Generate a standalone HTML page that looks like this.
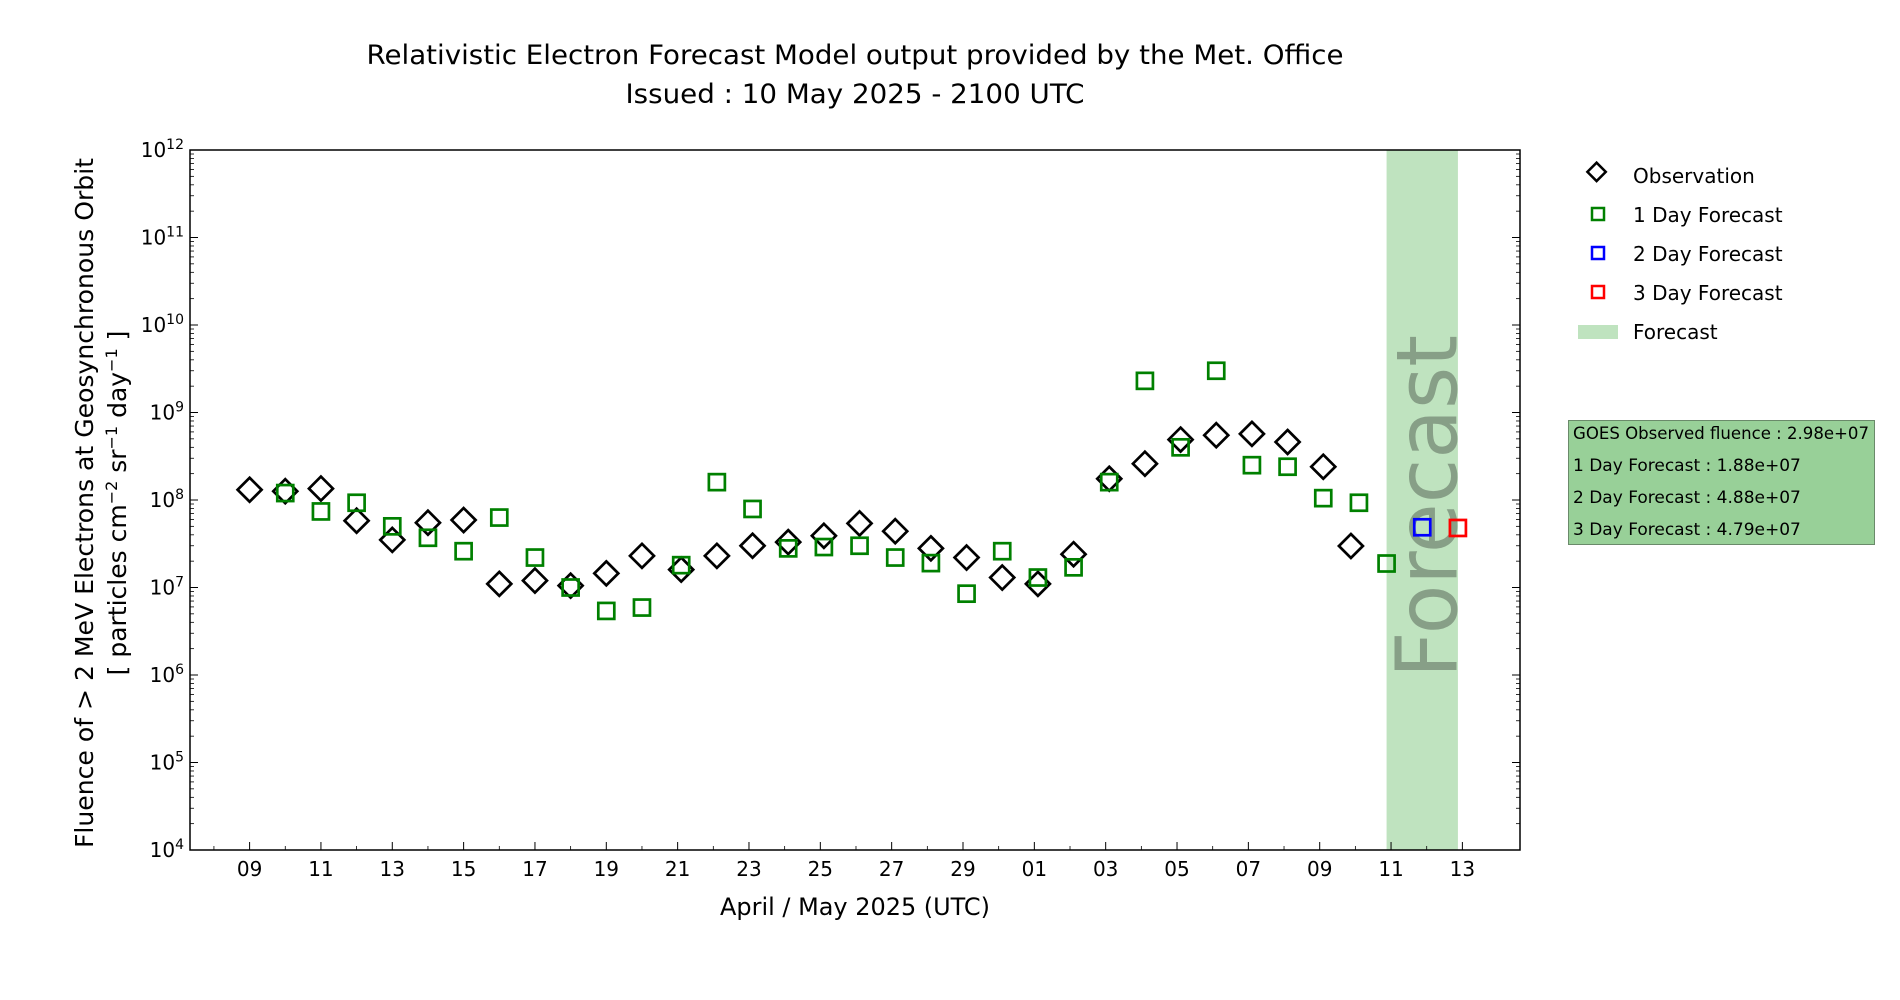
<!DOCTYPE html>
<html><head><meta charset="utf-8"><style>
html,body{margin:0;padding:0;background:#fff;}
svg{display:block;font-family:"DejaVu Sans","Liberation Sans",sans-serif;}
</style></head><body>
<svg id="chart" width="1900" height="1000" viewBox="0 0 1900 1000">
<text x="855" y="64" font-size="27" text-anchor="middle" textLength="977" lengthAdjust="spacingAndGlyphs">Relativistic Electron Forecast Model output provided by the Met. Office</text>
<text x="855" y="103" font-size="27" text-anchor="middle" textLength="459" lengthAdjust="spacingAndGlyphs">Issued : 10 May 2025 - 2100 UTC</text>
<g id="plot"></g>
<text x="855" y="915" font-size="24" text-anchor="middle" textLength="270" lengthAdjust="spacingAndGlyphs">April / May 2025 (UTC)</text>
<g transform="translate(93,503) rotate(-90)">
<text x="0" y="0" font-size="25" text-anchor="middle" textLength="690" lengthAdjust="spacingAndGlyphs">Fluence of &gt; 2 MeV Electrons at Geosynchronous Orbit</text>
<text x="0" y="33" font-size="25" text-anchor="middle">[ particles cm<tspan baseline-shift="super" font-size="16">−2</tspan> sr<tspan baseline-shift="super" font-size="16">−1</tspan> day<tspan baseline-shift="super" font-size="16">−1</tspan> ]</text>
</g>
<g>
<rect x="1589" y="167" width="13" height="13" transform="rotate(45 1598 174)" fill="none" stroke="#000" stroke-width="2.5"/>
<text x="1633" y="183" font-size="20">Observation</text>
<rect x="1592" y="208" width="12" height="12" fill="none" stroke="#008000" stroke-width="2.5"/>
<text x="1633" y="222" font-size="20">1 Day Forecast</text>
<rect x="1592" y="247" width="12" height="12" fill="none" stroke="#0000ff" stroke-width="2.5"/>
<text x="1633" y="261" font-size="20">2 Day Forecast</text>
<rect x="1592" y="286" width="12" height="12" fill="none" stroke="#ff0000" stroke-width="2.5"/>
<text x="1633" y="300" font-size="20">3 Day Forecast</text>
<rect x="1578" y="325" width="40" height="14" fill="#bfe3bf"/>
<text x="1633" y="339" font-size="20">Forecast</text>
</g>
<g>
<rect x="1568.5" y="420.5" width="306" height="124" fill="#98d098" stroke="#6a8a6a" stroke-width="1"/>
<text x="1573" y="439" font-size="17" textLength="296" lengthAdjust="spacingAndGlyphs">GOES Observed fluence : 2.98e+07</text>
<text x="1573" y="471" font-size="17">1 Day Forecast : 1.88e+07</text>
<text x="1573" y="503" font-size="17">2 Day Forecast : 4.88e+07</text>
<text x="1573" y="535" font-size="17">3 Day Forecast : 4.79e+07</text>
</g>
</svg>
<script>
// day index 0 = 09 April 2025
const obsDays = [0,1,2,3,4,5,6,7,8,9,10,11,12.1,13.1,14.1,15.1,16.1,17.1,18.1,19.1,20.1,21.1,22.1,23.1,24.1,25.1,26.1,27.1,28.1,29.1,30.1,30.875];
const obsValues = [1.31e8,1.26e8,1.35e8,5.8e7,3.5e7,5.5e7,5.9e7,1.1e7,1.2e7,1.05e7,1.45e7,2.3e7,1.6e7,2.3e7,3.0e7,3.3e7,3.9e7,5.4e7,4.4e7,2.8e7,2.2e7,1.3e7,1.1e7,2.4e7,1.75e8,2.6e8,4.9e8,5.5e8,5.7e8,4.6e8,2.4e8,2.98e7];
const fc1Days = [1,2,3,4,5,6,7,8,9,10,11,12.1,13.1,14.1,15.1,16.1,17.1,18.1,19.1,20.1,21.1,22.1,23.1,24.1,25.1,26.1,27.1,28.1,29.1,30.1,31.1,31.875];
const fc1Values = [1.2e8,7.4e7,9.3e7,5.0e7,3.7e7,2.6e7,6.3e7,2.2e7,1.0e7,5.4e6,5.9e6,1.8e7,1.6e8,7.9e7,2.8e7,2.9e7,3.0e7,2.2e7,1.9e7,8.5e6,2.6e7,1.3e7,1.7e7,1.6e8,2.3e9,4.0e8,3.0e9,2.5e8,2.4e8,1.05e8,9.3e7,1.88e7];
const fc2Days = [32.875];
const fc2Values = [4.88e7];
const fc3Days = [33.875];
const fc3Values = [4.79e7];
const bandStart = 31.875, bandEnd = 33.875;
const xTickDays = [0,2,4,6,8,10,12,14,16,18,20,22,24,26,28,30,32,34];
const xTickLabels = ["09","11","13","15","17","19","21","23","25","27","29","01","03","05","07","09","11","13"];
const yExps = [4,5,6,7,8,9,10,11,12];

const L=190,R=1520,T=150,B=850;
const xs = d => 249.6 + 35.67*d;
const ys = v => B - (Math.log10(v)-4)*(B-T)/8;
const NS="http://www.w3.org/2000/svg";
const g=document.getElementById('plot');
function mk(tag,attrs,parent){const e=document.createElementNS(NS,tag);for(const k in attrs)e.setAttribute(k,attrs[k]);(parent||g).appendChild(e);return e;}

const band=mk('rect',{x:xs(bandStart),y:T,width:xs(bandEnd)-xs(bandStart),height:B-T,fill:'#bfe3bf'});


const ft=mk('text',{transform:`translate(${xs(bandStart)+70},678) rotate(-90)`,'font-size':85,fill:'#879f87',textLength:343,lengthAdjust:'spacingAndGlyphs'});
ft.textContent='Forecast';



const fr=mk('rect',{x:L,y:T,width:R-L,height:B-T,fill:'none',stroke:'#000','stroke-width':1.5});



yExps.forEach(e=>{
  const y=ys(Math.pow(10,e));
  mk('line',{x1:L,x2:L+8,y1:y,y2:y,stroke:'#000','stroke-width':1});
  mk('line',{x1:R,x2:R-8,y1:y,y2:y,stroke:'#000','stroke-width':1});
  const t=mk('text',{x:184,y:y+7,'font-size':20,'text-anchor':'end'});
  t.innerHTML='10<tspan baseline-shift="super" font-size="14">'+e+'</tspan>';
  
  
  if(e<12){for(let m=2;m<10;m++){const yy=ys(m*Math.pow(10,e));
    mk('line',{x1:L,x2:L+4,y1:yy,y2:yy,stroke:'#000','stroke-width':0.8});
    mk('line',{x1:R,x2:R-4,y1:yy,y2:yy,stroke:'#000','stroke-width':0.8});}}
});
xTickDays.forEach((d,i)=>{
  const x=xs(d);
  mk('line',{x1:x,x2:x,y1:B,y2:B-8,stroke:'#000','stroke-width':1});
  const t=mk('text',{x:x,y:B+26,'font-size':20,'text-anchor':'middle'});
  t.textContent=xTickLabels[i];
  
  
  const xm=xs(d-1); if(xm>L) mk('line',{x1:xm,x2:xm,y1:B,y2:B-4,stroke:'#000','stroke-width':0.8});
});

function squares(days,vals,color,name){
  days.forEach((d,i)=>{const x=xs(d),y=ys(vals[i]);
    const r=mk('rect',{x:x-8,y:y-8,width:16,height:16,fill:'none',stroke:color,'stroke-width':2.7});
    
    });
}
obsDays.forEach((d,i)=>{const x=xs(d),y=ys(obsValues[i]);
  const p=mk('polygon',{points:`${x},${y-12} ${x+12},${y} ${x},${y+12} ${x-12},${y}`,fill:'none',stroke:'#000','stroke-width':2.7});
  
  });
squares(fc1Days,fc1Values,'#008000','forecast-1day-point');
squares(fc2Days,fc2Values,'#0000ff','forecast-2day-point');
squares(fc3Days,fc3Values,'#ff0000','forecast-3day-point');
</script>
</body></html>
